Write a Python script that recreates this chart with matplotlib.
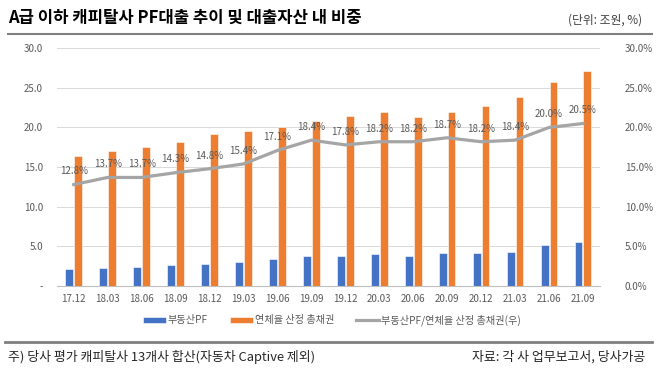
import matplotlib.pyplot as plt
import numpy as np

plt.rcParams['font.family'] = ['Noto Sans CJK KR', 'DejaVu Sans']

# 데이터
quarters = ['17.12', '18.03', '18.06', '18.09', '18.12', '19.03', '19.06', '19.09',
            '19.12', '20.03', '20.06', '20.09', '20.12', '21.03', '21.06', '21.09']
pf_loans = [2.1, 2.3, 2.35, 2.65, 2.8, 3.0, 3.4, 3.8,
            3.85, 4.0, 3.85, 4.15, 4.15, 4.3, 5.15, 5.55]
total_loans = [16.4, 17.0, 17.5, 18.2, 19.2, 19.5, 20.05, 20.8,
               21.5, 21.9, 21.3, 22.0, 22.7, 23.9, 25.7, 27.1]
pf_ratio = [12.8, 13.7, 13.7, 14.3, 14.8, 15.4, 17.1, 18.4,
            17.8, 18.2, 18.2, 18.7, 18.2, 18.4, 20.0, 20.5]
left_ticks = [0, 5, 10, 15, 20, 25, 30]
left_labels = ['-', '5.0', '10.0', '15.0', '20.0', '25.0', '30.0']
right_labels = ['0.0%', '5.0%', '10.0%', '15.0%', '20.0%', '25.0%', '30.0%']

blue, orange, grey = '#4472C4', '#ED7D31', '#A5A5A5'
tick_col = '#595959'

fig = plt.figure(figsize=(6.6, 3.82), dpi=100)
ax = fig.add_axes([0.086, 0.251, 0.823, 0.623])
ax2 = ax.twinx()

x = np.arange(len(quarters))
w = 0.23
b1 = ax.bar(x - 0.13, pf_loans, w, color=blue, edgecolor='white', linewidth=0.4, label='부동산PF', zorder=2)
b2 = ax.bar(x + 0.13, total_loans, w, color=orange, edgecolor='white', linewidth=0.4, label='연체율 산정 총채권', zorder=2)
ln, = ax2.plot(x, pf_ratio, color=grey, linewidth=2.3, label='부동산PF/연체율 산정 총채권(우)', zorder=3)

for xi, v in zip(x, pf_ratio):
    ax2.annotate(f'{v:.1f}%', (xi, v), xytext=(0, 9.5), textcoords='offset points',
                 ha='center', va='center', fontsize=7, color=tick_col)

ax.set_xlim(-0.5, 15.5)
ax.set_ylim(0, 30)
ax2.set_ylim(0, 30)
ax.set_yticks(left_ticks)
ax.set_yticklabels(left_labels)
ax2.set_yticks(left_ticks)
ax2.set_yticklabels(right_labels)
ax.set_xticks(x)
ax.set_xticklabels(quarters)

ax.grid(axis='y', color='#D9D9D9', linewidth=0.7, zorder=0)
ax.set_axisbelow(True)
for a in (ax, ax2):
    for s in a.spines.values():
        s.set_visible(False)
    a.tick_params(length=0, labelsize=7, labelcolor=tick_col)
ax.spines['bottom'].set_visible(True)
ax.spines['bottom'].set_color('#BFBFBF')
ax.tick_params(axis='y', pad=10)
ax.tick_params(axis='x', pad=6)
ax2.tick_params(axis='y', pad=18)

fig.legend(handles=[b1, b2, ln], loc='center', bbox_to_anchor=(0.503, 0.162), ncol=3,
           frameon=False, fontsize=7.3, labelcolor=tick_col, handlelength=2.2,
           handleheight=0.5, columnspacing=2.2, handletextpad=0.2)

# 제목, 단위, 구분선, 각주
fig.text(0.012, 1 - 18 / 382, 'A급 이하 캐피탈사 PF대출 추이 및 대출자산 내 비중',
         fontsize=12, fontweight='bold', va='center', ha='left')
fig.text(0.973, 1 - 20 / 382, '(단위: 조원, %)', fontsize=8.5, color='#404040', va='center', ha='right')
fig.add_artist(plt.Line2D([0.012, 0.988], [1 - 34 / 382] * 2, color='#7F7F7F', linewidth=1.5))
fig.add_artist(plt.Line2D([0.008, 0.988], [1 - 342 / 382] * 2, color='#7F7F7F', linewidth=2.0))
fig.text(0.012, 1 - 357 / 382, '주) 당사 평가 캐피탈사 13개사 합산(자동차 Captive 제외)',
         fontsize=9.3, va='center', ha='left', color='#262626')
fig.text(0.977, 1 - 357 / 382, '자료: 각 사 업무보고서, 당사가공',
         fontsize=9.3, va='center', ha='right', color='#262626')

fig.savefig('out.png', dpi=100)
